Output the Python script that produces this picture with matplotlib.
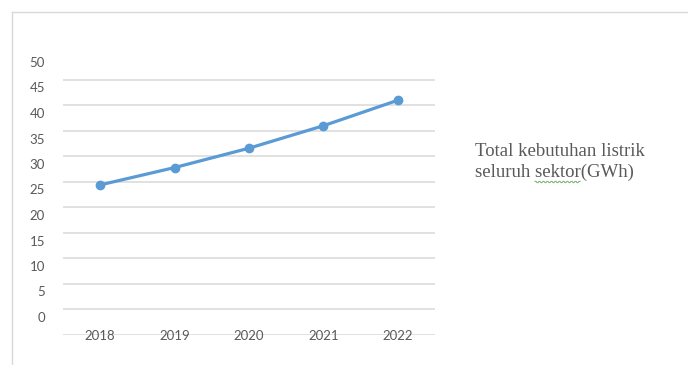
import numpy as np
import matplotlib
matplotlib.use("Agg")
import matplotlib.pyplot as plt
from matplotlib.lines import Line2D

years = ["2018", "2019", "2020", "2021", "2022"]
demand_gwh = [25.9, 29.3, 33.1, 37.5, 42.5]
y_ticks = [0, 5, 10, 15, 20, 25, 30, 35, 40, 45, 50]
legend_lines = ["Total kebutuhan listrik", "seluruh sektor(GWh)"]

W, H = 688, 365
fig = plt.figure(figsize=(W / 100, H / 100), dpi=100)

# panel border (top and left only)
fig.add_artist(Line2D([12 / W, 1], [1 - 12 / H, 1 - 12 / H], transform=fig.transFigure,
                      color="#D9D9D9", lw=1.0))
fig.add_artist(Line2D([12 / W, 12 / W], [0, 1 - 12 / H], transform=fig.transFigure,
                      color="#D9D9D9", lw=1.0))

ax_l, ax_r = 63, 435
ax_t, ax_b = 55, 335
ax = fig.add_axes([ax_l / W, 1 - ax_b / H, (ax_r - ax_l) / W, (ax_b - ax_t) / H])

px_per_unit = 5.1
label_zero_px = 317
ymin = -(ax_b - label_zero_px) / px_per_unit
ymax = (label_zero_px - ax_t) / px_per_unit
ax.set_ylim(ymin, ymax)
ax.set_xlim(-0.5, len(years) - 0.5)

x = np.arange(len(years))
grid_offset = (label_zero_px - 309) / px_per_unit
for k in range(-1, 10):
    ax.axhline(k * 5 + grid_offset, color="#D9D9D9", lw=1.1, zorder=1)

ax.plot(x, demand_gwh, color="#5B9BD5", lw=2.3, marker="o", markersize=6,
        solid_capstyle="round", zorder=3)

for s in ax.spines.values():
    s.set_visible(False)

ax.set_yticks(y_ticks)
ax.set_yticklabels([str(v) for v in y_ticks])
ax.set_xticks(x)
ax.set_xticklabels(years)
ax.tick_params(axis="both", length=0, labelsize=9.5, labelcolor="#595959")
ax.tick_params(axis="y", pad=13)
ax.tick_params(axis="x", pad=0.5)
for t in ax.get_xticklabels() + ax.get_yticklabels():
    t.set_family("Lato")
for t in ax.get_xticklabels():
    t.set_va("center")
ax.set_facecolor("none")

fs = 13.5
fig.text(475 / W, 1 - 156 / H, legend_lines[0], family="Liberation Serif",
         fontsize=fs, color="#595959", va="baseline", ha="left")
fig.text(475 / W, 1 - 177 / H, legend_lines[1], family="Liberation Serif",
         fontsize=fs, color="#595959", va="baseline", ha="left")

# spell-check squiggle under "sektor"
fig.canvas.draw()
r = fig.canvas.get_renderer()
first, rest = legend_lines[1].split(" ", 1)
word = rest.split("(")[0]
pre = fig.text(475 / W, 1 - 177 / H, first + " ",
               family="Liberation Serif", fontsize=fs, va="baseline", ha="left")
upto = fig.text(475 / W, 1 - 177 / H, first + " " + word,
                family="Liberation Serif", fontsize=fs, va="baseline", ha="left")
x0 = pre.get_window_extent(r).x1
x1 = upto.get_window_extent(r).x1
pre.remove()
upto.remove()
xs = np.arange(x0, x1, 1.0)
ybase = (H - 182)
ys = ybase + np.where((np.arange(len(xs)) // 2) % 2 == 0, 0.6, -0.6)
fig.add_artist(Line2D(xs / W, ys / H, transform=fig.transFigure, color="#7FB77E", lw=0.8))

fig.savefig("out.png", dpi=100)
